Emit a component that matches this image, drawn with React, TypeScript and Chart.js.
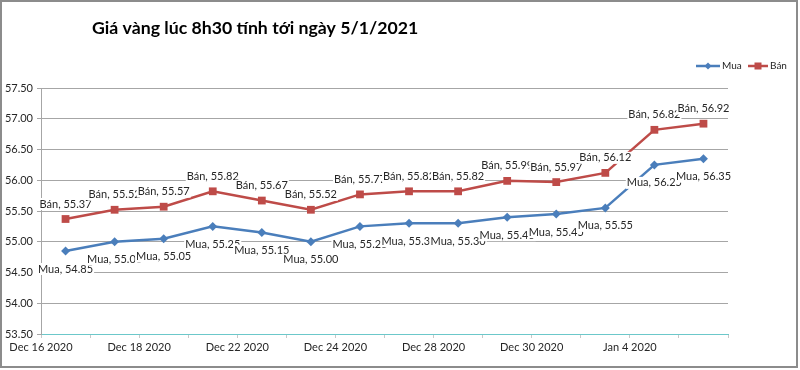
import React, { useEffect, useRef } from "react";
import { Chart, registerables } from "chart.js";

Chart.register(...registerables);

const titleText = "Giá vàng lúc 8h30 tính tới ngày 5/1/2021";
const seriesNames = ["Mua", "Bán"];
const mua = [54.85, 55.0, 55.05, 55.25, 55.15, 55.0, 55.25, 55.3, 55.3, 55.4, 55.45, 55.55, 56.25, 56.35];
const ban = [55.37, 55.52, 55.57, 55.82, 55.67, 55.52, 55.77, 55.82, 55.82, 55.99, 55.97, 56.12, 56.82, 56.92];
const xTickLabels = [
  "Dec 16 2020", "", "Dec 18 2020", "", "Dec 22 2020", "", "Dec 24 2020", "",
  "Dec 28 2020", "", "Dec 30 2020", "", "Jan 4 2020", "", "",
];
const yMin = 53.5;
const yMax = 57.5;
const yStep = 0.5;

const BLUE = "#4a7ebb";
const RED = "#be4b48";
const FONT = "Lato, 'Liberation Sans', sans-serif";

const decorPlugin = {
  id: "decor",
  beforeDraw(chart: any) {
    const ctx = chart.ctx;
    ctx.save();
    ctx.fillStyle = "#ffffff";
    ctx.fillRect(0, 0, chart.width, chart.height);
    ctx.restore();
  },
  afterDraw(chart: any) {
    const ctx = chart.ctx;
    ctx.save();
    // data labels
    ctx.font = `11px ${FONT}`;
    ctx.textAlign = "center";
    ctx.textBaseline = "middle";
    chart.data.datasets.forEach((ds: any, di: number) => {
      const meta = chart.getDatasetMeta(di);
      meta.data.forEach((pt: any, i: number) => {
        const v = ds.data[i].y;
        const text = `${ds.label}, ${v.toFixed(2)}`;
        const ty = di === 1 ? pt.y - 15 : pt.y + 18;
        const w = ctx.measureText(text).width;
        ctx.fillStyle = "#ffffff";
        ctx.fillRect(pt.x - w / 2 - 1, ty - 6, w + 2, 12);
        ctx.fillStyle = "#262626";
        ctx.fillText(text, pt.x, ty);
      });
    });
    // title
    ctx.font = `bold 17.7px ${FONT}`;
    ctx.textAlign = "left";
    ctx.fillStyle = "#000000";
    ctx.fillText(titleText, 92, 28);
    // legend
    const ly = 66;
    const items = [
      { name: seriesNames[0], color: BLUE, x0: 696, x1: 720, shape: "diamond" },
      { name: seriesNames[1], color: RED, x0: 748, x1: 768, shape: "square" },
    ];
    ctx.font = `10px ${FONT}`;
    items.forEach((it) => {
      ctx.strokeStyle = it.color;
      ctx.lineWidth = 2.5;
      ctx.beginPath();
      ctx.moveTo(it.x0, ly);
      ctx.lineTo(it.x1, ly);
      ctx.stroke();
      const cx = (it.x0 + it.x1) / 2;
      ctx.fillStyle = it.color;
      if (it.shape === "diamond") {
        ctx.beginPath();
        ctx.moveTo(cx, ly - 3.5);
        ctx.lineTo(cx + 3.5, ly);
        ctx.lineTo(cx, ly + 3.5);
        ctx.lineTo(cx - 3.5, ly);
        ctx.closePath();
        ctx.fill();
      } else {
        ctx.fillRect(cx - 3.5, ly - 3.5, 7, 7);
      }
      ctx.fillStyle = "#262626";
      ctx.textAlign = "left";
      ctx.fillText(it.name, it.x1 + 2, ly);
    });
    // outer frame
    ctx.strokeStyle = "#8c8c8c";
    ctx.lineWidth = 2;
    ctx.strokeRect(1, 1, 796, 366);
    ctx.restore();
  },
};

export default function App() {
  const ref = useRef<HTMLCanvasElement | null>(null);
  useEffect(() => {
    document.body.style.margin = "0";
    const canvas = ref.current;
    if (!canvas) return;
    const chart = new Chart(canvas, {
      type: "line",
      data: {
        datasets: [
          {
            label: seriesNames[0],
            data: mua.map((v, i) => ({ x: i + 0.5, y: v })),
            borderColor: BLUE,
            backgroundColor: BLUE,
            borderWidth: 2.5,
            pointStyle: "rectRot",
            pointRadius: 4.5,
            pointBorderWidth: 0,
            tension: 0,
          },
          {
            label: seriesNames[1],
            data: ban.map((v, i) => ({ x: i + 0.5, y: v })),
            borderColor: RED,
            backgroundColor: RED,
            borderWidth: 2.5,
            pointStyle: "rect",
            pointRadius: 5.5,
            pointBorderWidth: 0,
            tension: 0,
          },
        ],
      },
      options: {
        animation: false,
        responsive: false,
        events: [],
        layout: { padding: { top: 88, right: 72, left: 0, bottom: 0 } },
        plugins: {
          legend: { display: false },
          title: { display: false },
          tooltip: { enabled: false },
        },
        scales: {
          x: {
            type: "linear",
            min: 0,
            max: xTickLabels.length - 1,
            afterFit: (s: any) => { s.height = 36; },
            afterBuildTicks: (s: any) => {
              s.ticks = xTickLabels.map((_, i) => ({ value: i }));
            },
            ticks: {
              autoSkip: false,
              maxRotation: 0,
              padding: 3,
              color: "#262626",
              font: { family: FONT, size: 11 },
              callback: (v: any) => xTickLabels[Math.round(v)] ?? "",
            },
            grid: { drawOnChartArea: false, drawTicks: true, tickLength: 4, color: "#c8c8c8" },
            border: { color: "#6cc8ca", width: 1 },
          },
          y: {
            min: yMin,
            max: yMax,
            afterFit: (s: any) => { s.width = 41; },
            ticks: {
              stepSize: yStep,
              padding: 4,
              color: "#262626",
              font: { family: FONT, size: 11 },
              callback: (v: any) => Number(v).toFixed(2),
            },
            grid: { color: "#a6a6a6", tickLength: 4, lineWidth: 1 },
            border: { color: "#a6a6a6", width: 1 },
          },
        },
      },
      plugins: [decorPlugin],
    });
    return () => chart.destroy();
  }, []);
  return <canvas ref={ref} width={800} height={370} style={{ display: "block" }} />;
}
